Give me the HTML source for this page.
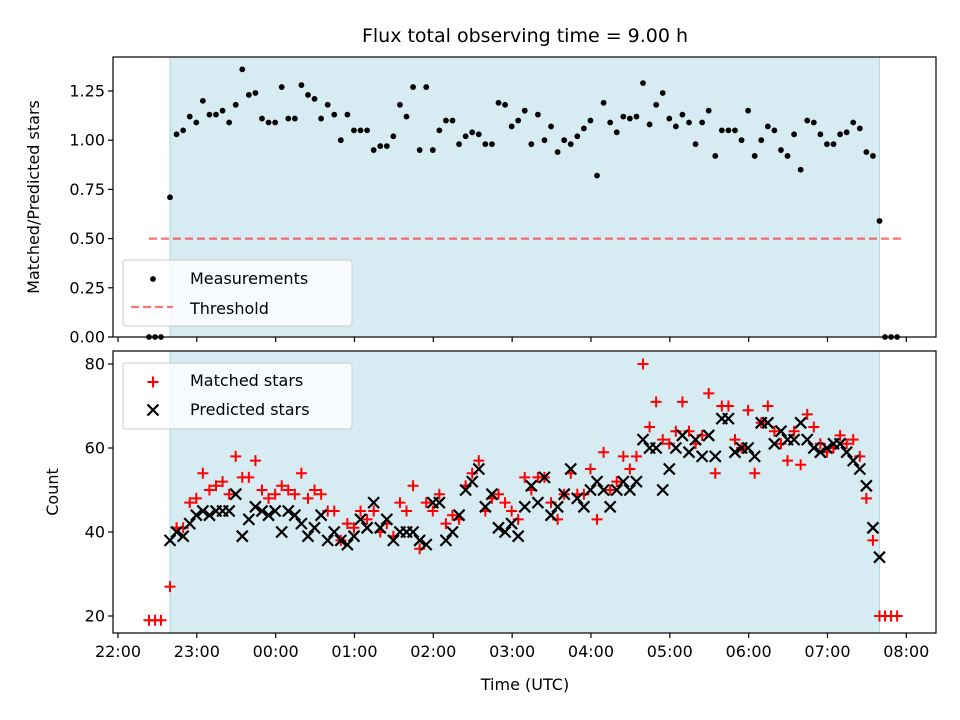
<!DOCTYPE html>
<html><head><meta charset="utf-8"><style>
body{margin:0;background:#fff;width:960px;height:720px;overflow:hidden}
svg{display:block}
text{font-family:"DejaVu Sans","Liberation Sans",sans-serif;fill:#000}
</style></head><body>
<svg id="chart" width="960" height="720" viewBox="0 0 960 720" xmlns="http://www.w3.org/2000/svg">
<text x="525" y="42" font-size="19" text-anchor="middle">Flux total observing time = 9.00 h</text>
<g id="top"></g>
<g id="bot"></g>
<text transform="translate(39,197) rotate(-90)" font-size="16" text-anchor="middle">Matched/Predicted stars</text>
<text transform="translate(58,492) rotate(-90)" font-size="16" text-anchor="middle">Count</text>
<text x="525" y="690" font-size="16" text-anchor="middle">Time (UTC)</text>
</svg>
<script>
// minutes after 22:00 for the in-window points
const startMin = 39.6, stepMin = 5.0;
const preTimes = [23.6, 28.2, 32.7];
const postTimes = [583.8, 588.4, 593.0];
const ratio = [0.71,1.03,1.05,1.12,1.09,1.20,1.13,1.13,1.15,1.09,
1.18,1.36,1.23,1.24,1.11,1.09,1.09,1.27,1.11,1.11,
1.28,1.23,1.21,1.11,1.18,1.13,1.00,1.13,1.05,1.05,
1.05,0.95,0.97,0.97,1.02,1.18,1.12,1.27,0.95,1.27,
0.95,1.05,1.10,1.10,0.98,1.02,1.04,1.03,0.98,0.98,
1.19,1.18,1.07,1.10,1.15,0.98,1.13,1.00,1.07,0.94,
1.00,0.98,1.02,1.06,1.10,0.82,1.19,1.09,1.04,1.12,
1.11,1.12,1.29,1.08,1.18,1.24,1.11,1.07,1.13,1.09,
0.98,1.09,1.15,0.92,1.05,1.05,1.05,1.00,1.15,0.92,
1.00,1.07,1.05,0.95,0.92,1.03,0.85,1.10,1.09,1.03,
0.98,0.98,1.03,1.04,1.09,1.06,0.94,0.92,0.59];
const preRatio = [0,0,0];
const postRatio = [0,0,0];
const predicted = [38,40,39,42,44,45,44,45,45,45,
49,39,43,46,45,44,45,40,45,44,
42,39,41,44,38,40,38,37,39,43,
41,47,41,43,38,40,40,40,38,37,
47,47,38,40,44,50,52,55,46,49,
41,40,42,39,46,51,47,53,44,46,
49,55,48,46,50,52,50,46,50,52,
50,52,62,60,60,50,55,60,63,59,
62,58,63,58,67,67,59,60,60,58,
66,66,61,64,62,62,66,62,60,59,
60,61,61,59,57,55,51,41,34];
const matched = [27,41,41,47,48,54,50,51,52,49,
58,53,53,57,50,48,49,51,50,49,
54,48,50,49,45,45,38,42,41,45,
43,45,40,42,39,47,45,51,36,47,
45,49,42,44,43,51,54,57,45,48,
49,47,45,43,53,50,53,53,47,43,
49,54,49,49,55,43,59,50,52,58,
55,58,80,65,71,62,61,64,71,64,
61,63,73,54,70,70,62,60,69,54,
66,70,64,61,57,64,56,68,65,61,
59,60,63,61,62,58,48,38,20];
const preMatched = [19,19,19];
const postMatched = [20,20,20];
const xTickLabels = ["22:00","23:00","00:00","01:00","02:00","03:00","04:00","05:00","06:00","07:00","08:00"];
const topTicks = [0,0.25,0.5,0.75,1.0,1.25];
const botTicks = [20,40,60,80];
const threshold = 0.5;

const NS="http://www.w3.org/2000/svg";
function mk(parent,tag,attrs){const e=document.createElementNS(NS,tag);for(const k in attrs)e.setAttribute(k,attrs[k]);parent.appendChild(e);return e;}
const L=113,R=936;
const tMin=-3.8,tMax=622.6;
const X=t=>L+(t-tMin)/(tMax-tMin)*(R-L);
const T0=57,B0=337, yT=v=>B0-v/1.4228*(B0-T0);
const T1=351,B1=633, yB=v=>B1-(v-15.95)/(83.1-15.95)*(B1-T1);
const times = ratio.map((_,i)=>startMin+stepMin*i);
const winStart=times[0], winEnd=times[times.length-1];

function panel(g,top,bot,yf,ticks,fmt,showLabels,prefix){
  const s=mk(g,'rect',{x:X(winStart),y:top,width:X(winEnd)-X(winStart),height:bot-top,fill:'#add8e6','fill-opacity':0.5,stroke:'#add8e6','stroke-width':1});
  
  
  ticks.forEach(v=>{
    const y=yf(v);
    const tk=mk(g,'line',{x1:L-5,x2:L,y1:y,y2:y,stroke:'#000','stroke-width':1.2});
    
    
    const tl=mk(g,'text',{x:L-8,y:y+5.5,'font-size':16,'text-anchor':'end'});tl.textContent=fmt(v);
    
    
  });
  xTickLabels.forEach((lab,k)=>{
    const x=X(k*60);
    const tk=mk(g,'line',{x1:x,x2:x,y1:bot,y2:bot+5,stroke:'#000','stroke-width':1.2});
    
    
    if(showLabels){const tl=mk(g,'text',{x:x,y:bot+24,'font-size':16,'text-anchor':'middle'});tl.textContent=lab;
      
      }
  });
}
function frame(g,top,bot,prefix){
  const f=mk(g,'rect',{x:L,y:top,width:R-L,height:bot-top,fill:'none',stroke:'#000','stroke-width':1.2});
  
  
}
const gt=document.getElementById('top'), gb=document.getElementById('bot');
panel(gt,T0,B0,yT,topTicks,v=>v.toFixed(2),false,'top');
panel(gb,T1,B1,yB,botTicks,v=>String(v),true,'bottom');

// threshold
const th=mk(gt,'line',{x1:X(preTimes[0]),x2:X(postTimes[2]+3),y1:yT(threshold),y2:yT(threshold),stroke:'#ff0000','stroke-opacity':0.55,'stroke-width':2.2,'stroke-dasharray':'8,4'});



// measurements
function dot(t,v){const c=mk(gt,'circle',{cx:X(t),cy:yT(v),r:2.9,fill:'#000'});
  
  }
preTimes.forEach((t,i)=>dot(t,preRatio[i]));
times.forEach((t,i)=>dot(t,ratio[i]));
postTimes.forEach((t,i)=>dot(t,postRatio[i]));

function plus(t,v){const x=X(t),y=yB(v),h=5.5;
  const p=mk(gb,'path',{d:`M${x-h} ${y}H${x+h}M${x} ${y-h}V${y+h}`,stroke:'#ff0000','stroke-width':2,fill:'none'});
  
  }
function cross(t,v){const x=X(t),y=yB(v),h=5.5;
  const p=mk(gb,'path',{d:`M${x-h} ${y-h}L${x+h} ${y+h}M${x-h} ${y+h}L${x+h} ${y-h}`,stroke:'#000','stroke-width':2.2,fill:'none'});
  
  }
preTimes.forEach((t,i)=>plus(t,preMatched[i]));
times.forEach((t,i)=>plus(t,matched[i]));
postTimes.forEach((t,i)=>plus(t,postMatched[i]));
times.forEach((t,i)=>cross(t,predicted[i]));

frame(gt,T0,B0,'top');frame(gb,T1,B1,'bottom');

// legends
function legendBox(g,y,name){const r=mk(g,'rect',{x:123,y:y,width:229,height:66,rx:3,fill:'#fff','fill-opacity':0.8,stroke:'#ccc','stroke-width':1});
  
  }
function legText(g,y,s,name){const t=mk(g,'text',{x:190,y:y,'font-size':16});t.textContent=s;
  
  }
legendBox(gt,260,'top-legend');
const ld=mk(gt,'circle',{cx:153,cy:279,r:2.9,fill:'#000'});


legText(gt,284,'Measurements','legend-measurements');
const ll=mk(gt,'line',{x1:131,x2:173,y1:307,y2:307,stroke:'#ff0000','stroke-opacity':0.55,'stroke-width':2.2,'stroke-dasharray':'8,4'});


legText(gt,314,'Threshold','legend-threshold');

legendBox(gb,363,'bottom-legend');
const lp=mk(gb,'path',{d:'M147.5 382H158.5M153 376.5V387.5',stroke:'#ff0000','stroke-width':2,fill:'none'});


legText(gb,386,'Matched stars','legend-matched');
const lx=mk(gb,'path',{d:'M147.5 404.5L158.5 415.5M147.5 415.5L158.5 404.5',stroke:'#000','stroke-width':2.2,fill:'none'});


legText(gb,415,'Predicted stars','legend-predicted');
</script>
</body></html>
